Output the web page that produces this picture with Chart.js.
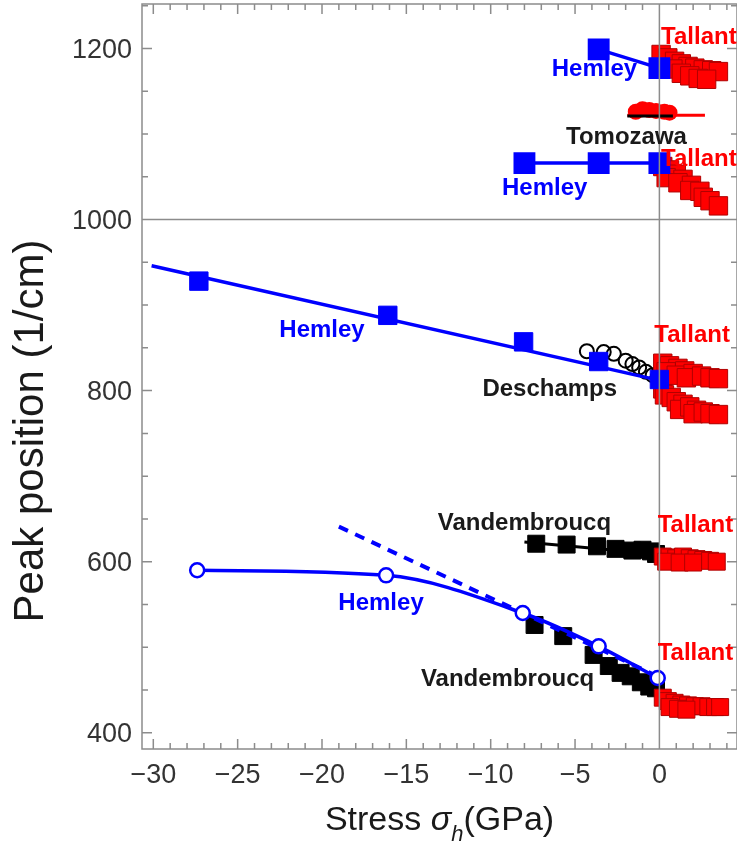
<!DOCTYPE html>
<html>
<head>
<meta charset="utf-8">
<script src="https://cdn.jsdelivr.net/npm/chart.js@4.4.0/dist/chart.umd.min.js"></script>
<style>
  html, body { margin: 0; padding: 0; background: #fff; }
  canvas { display: block; }
</style>
</head>
<body>
<canvas id="peakChart" width="737" height="846"></canvas>
<script>
// axis ranges and tick labels
const xRange = [-30.67, 4.6];
const yRange = [381, 1252];
const xTickValues = [-30, -25, -20, -15, -10, -5, 0];
const yTickValues = [400, 600, 800, 1000, 1200];

// Hemley (blue)
const hemleyTop = [[-3.6, 1199], [0, 1177]];
const hemleyMid = [[-8.0, 1066], [-3.6, 1066], [0, 1066]];
const hemley820 = [[-27.3, 928], [-16.1, 888], [-8.05, 857], [-3.6, 834], [0, 813]];
const hemley820Fit = [[-30.1, 946], [0, 812]];
const hemley600 = [[-27.4, 590], [-16.2, 584], [-8.1, 540], [-3.6, 501], [-0.1, 464]];
const hemley600Lin = [[-19.0, 641], [0, 465]];

// Tallant (red)
const tallant1180 = [[0.1, 1193], [0.5, 1189], [0.9, 1185], [1.3, 1182], [1.7, 1179], [2.1, 1177],
  [2.6, 1175], [3.1, 1174], [3.5, 1173], [0.8, 1176], [1.3, 1171], [1.8, 1168], [2.3, 1165], [2.8, 1164]];
const tallant1040 = [[0.2, 1062], [0.6, 1058], [1.0, 1053], [0.4, 1049], [1.4, 1047], [1.1, 1043],
  [1.9, 1040], [1.8, 1034], [2.4, 1033], [2.6, 1026], [3.0, 1022], [3.5, 1016]];
const tallant820 = [[0.2, 832], [0.6, 829], [1.1, 826], [0.4, 822], [1.5, 823], [1.0, 818],
  [2.0, 820], [1.6, 815], [2.5, 817], [3.0, 815], [3.5, 814]];
const tallant780 = [[0.2, 802], [0.3, 795], [0.7, 792], [1.0, 787], [1.4, 784], [1.2, 778],
  [1.8, 781], [2.2, 777], [2.0, 773], [2.6, 775], [3.0, 773], [3.5, 772]];
const tallant600 = [[0.2, 606], [0.6, 605], [1.0, 604], [1.4, 606], [1.8, 604], [2.2, 603],
  [2.6, 602], [3.0, 601], [3.4, 600], [0.4, 600], [1.2, 599], [2.0, 599]];
const tallant430 = [[0.2, 441], [0.5, 437], [0.9, 435], [1.3, 433], [1.7, 432], [2.1, 431],
  [2.5, 431], [2.9, 430], [3.3, 430], [3.6, 430], [0.6, 430], [1.1, 428], [1.6, 427]];

// Tomozawa
const tomozawaDots = [[-1.4, 1126], [-1.0, 1129], [-0.6, 1128], [-0.2, 1127], [0.3, 1126], [0.6, 1125]];
const tomozawaRed = [[-1.9, 1122], [2.7, 1122]];
const tomozawaBlack = [[-1.9, 1121], [0.8, 1121]];

// Deschamps (black open circles)
const deschamps = [[-4.3, 846], [-3.3, 845], [-2.7, 843], [-2.0, 835], [-1.6, 831], [-1.2, 827],
  [-0.8, 822], [-0.4, 818], [-0.1, 816]];

// Vandembroucq (black squares)
const vand620 = [[-7.3, 621], [-5.5, 620], [-3.7, 618], [-2.6, 615], [-1.6, 613], [-1.0, 614],
  [-0.5, 612], [-0.2, 609]];
const vand620Line = [[-8.0, 623], [-0.2, 609]];
const vand500 = [[-7.4, 526], [-5.7, 513], [-3.9, 491], [-3.0, 478], [-2.3, 470], [-1.7, 466],
  [-1.1, 459], [-0.6, 454], [-0.2, 452]];

// text labels placed in data coordinates
const labels = [
  { text: 'Hemley', x: -3.85, y: 1175, color: '#0000ff' },
  { text: 'Tallant', x: 0.1, y: 1213, color: '#ff0000', align: 'left' },
  { text: 'Tomozawa', x: -1.95, y: 1096, color: '#1a1a1a' },
  { text: 'Hemley', x: -6.8, y: 1037, color: '#0000ff' },
  { text: 'Tallant', x: 0.1, y: 1070, color: '#ff0000', align: 'left' },
  { text: 'Hemley', x: -20.0, y: 870, color: '#0000ff' },
  { text: 'Deschamps', x: -6.5, y: 802, color: '#1a1a1a' },
  { text: 'Tallant', x: -0.3, y: 864, color: '#ff0000', align: 'left' },
  { text: 'Vandembroucq', x: -8.0, y: 645, color: '#1a1a1a' },
  { text: 'Tallant', x: -0.1, y: 643, color: '#ff0000', align: 'left' },
  { text: 'Hemley', x: -16.5, y: 551, color: '#0000ff' },
  { text: 'Vandembroucq', x: -9.0, y: 462, color: '#1a1a1a' },
  { text: 'Tallant', x: -0.1, y: 493, color: '#ff0000', align: 'left' }
];

const FONT = '"Liberation Sans", Arial, Helvetica, sans-serif';
const BLUE = '#0000ff';
const RED = '#ff0000';

function pts(arr) {
  return arr.map(p => ({ x: p[0], y: p[1] }));
}

function squares(arr, color, border, r, order) {
  return { data: pts(arr), pointStyle: 'rect', pointRadius: r, backgroundColor: color,
    borderColor: border, borderWidth: 1, showLine: false, order: order };
}

function line(arr, color, width, order, dash) {
  return { data: pts(arr), showLine: true, borderColor: color, borderWidth: width,
    borderDash: dash || [], pointRadius: 0, order: order };
}

const datasets = [
  // blue on top
  Object.assign(squares(hemleyTop, BLUE, BLUE, 13, 1), { showLine: true, borderWidth: 3.5 }),
  Object.assign(squares(hemleyMid, BLUE, BLUE, 13, 1), { showLine: true, borderWidth: 3.5 }),
  squares(hemley820, BLUE, BLUE, 13, 1),
  line(hemley820Fit, BLUE, 3.5, 1),
  { data: pts(hemley600), showLine: true, cubicInterpolationMode: 'monotone', borderColor: BLUE,
    borderWidth: 3.5, pointRadius: 7, pointBorderWidth: 2.5, pointBackgroundColor: '#ffffff',
    pointBorderColor: BLUE, order: 1 },
  line(hemley600Lin, BLUE, 4, 1, [10, 8]),
  // Tomozawa
  line(tomozawaBlack, '#000000', 3, 2),
  { data: pts(tomozawaDots), pointStyle: 'circle', pointRadius: 8, backgroundColor: RED,
    borderColor: RED, borderWidth: 0, order: 3 },
  line(tomozawaRed, RED, 3, 3),
  // Tallant
  squares(tallant1180, RED, '#b00000', 13, 4),
  squares(tallant1040, RED, '#b00000', 13, 4),
  squares(tallant820, RED, '#b00000', 13, 4),
  squares(tallant780, RED, '#b00000', 13, 4),
  squares(tallant600, RED, '#b00000', 12, 4),
  squares(tallant430, RED, '#b00000', 12, 4),
  // black
  { data: pts(deschamps), pointStyle: 'circle', pointRadius: 7, backgroundColor: 'rgba(0,0,0,0)',
    borderColor: '#000000', borderWidth: 2, order: 5 },
  line(vand620Line, '#000000', 3, 5),
  squares(vand620, '#000000', '#000000', 12, 5),
  squares(vand500, '#000000', '#000000', 12, 5)
];

function fmt(v) {
  return v < 0 ? '\u2212' + Math.abs(v) : String(v);
}

const framePlugin = {
  id: 'frame',
  afterDatasetsDraw(chart) {
    const { ctx, chartArea: a, scales: { x, y } } = chart;
    ctx.save();
    ctx.strokeStyle = '#8c8c8c';
    ctx.lineWidth = 1.5;
    ctx.beginPath();
    // axes through (0, 1000)
    const x0 = x.getPixelForValue(0);
    const y0 = y.getPixelForValue(1000);
    ctx.moveTo(x0, a.top); ctx.lineTo(x0, a.bottom);
    ctx.moveTo(a.left, y0); ctx.lineTo(a.right, y0);
    ctx.rect(a.left, a.top, a.right - a.left, a.bottom - a.top);
    // inward ticks on all four sides
    for (let v = -30; v <= 4; v++) {
      const px = x.getPixelForValue(v);
      const len = v % 5 === 0 ? 10 : 6;
      ctx.moveTo(px, a.bottom); ctx.lineTo(px, a.bottom - len);
      ctx.moveTo(px, a.top); ctx.lineTo(px, a.top + len);
    }
    for (let v = 400; v <= 1250; v += 50) {
      const py = y.getPixelForValue(v);
      const len = v % 200 === 0 ? 10 : 6;
      ctx.moveTo(a.left, py); ctx.lineTo(a.left + len, py);
      ctx.moveTo(a.right, py); ctx.lineTo(a.right - len, py);
    }
    ctx.stroke();

    // tick labels
    ctx.font = '27px ' + FONT;
    ctx.fillStyle = '#333333';
    ctx.textBaseline = 'alphabetic';
    ctx.textAlign = 'center';
    xTickValues.forEach(v => ctx.fillText(fmt(v), x.getPixelForValue(v), a.bottom + 34));
    ctx.textAlign = 'right';
    yTickValues.forEach(v => ctx.fillText(fmt(v), a.left - 10, y.getPixelForValue(v) + 9.5));

    // annotation labels
    ctx.font = 'bold 24px ' + FONT;
    ctx.textBaseline = 'middle';
    labels.forEach(l => {
      ctx.fillStyle = l.color;
      ctx.textAlign = l.align || 'center';
      ctx.fillText(l.text, x.getPixelForValue(l.x), y.getPixelForValue(l.y));
    });

    // y axis title
    ctx.save();
    ctx.translate(43, a.top + 427);
    ctx.rotate(-Math.PI / 2);
    ctx.font = '42px ' + FONT;
    ctx.fillStyle = '#1a1a1a';
    ctx.textAlign = 'center';
    ctx.textBaseline = 'alphabetic';
    ctx.fillText('Peak position (1/cm)', 0, 0);
    ctx.restore();

    // x axis title: Stress σ_h(GPa)
    const parts = [
      { t: 'Stress ', f: '34px ' + FONT, dy: 0 },
      { t: '\u03c3', f: 'italic 34px ' + FONT, dy: 0 },
      { t: 'h', f: 'italic 22px ' + FONT, dy: 11 },
      { t: '(GPa)', f: '34px ' + FONT, dy: 0 }
    ];
    let total = 0;
    parts.forEach(p => { ctx.font = p.f; p.w = ctx.measureText(p.t).width; total += p.w; });
    let cx = (a.left + a.right) / 2 - total / 2;
    const base = a.bottom + 81;
    ctx.fillStyle = '#1a1a1a';
    ctx.textAlign = 'left';
    ctx.textBaseline = 'alphabetic';
    parts.forEach(p => {
      ctx.font = p.f;
      ctx.fillText(p.t, cx, base + p.dy);
      cx += p.w;
    });
    ctx.restore();
  }
};

new Chart(document.getElementById('peakChart'), {
  type: 'scatter',
  data: { datasets: datasets },
  options: {
    responsive: false,
    animation: false,
    events: [],
    layout: { autoPadding: false, padding: { top: 4, right: -2, left: 0, bottom: 0 } },
    plugins: { legend: { display: false }, tooltip: { enabled: false } },
    scales: {
      x: {
        type: 'linear', min: xRange[0], max: xRange[1],
        grid: { display: false }, border: { display: false },
        ticks: { display: false },
        afterFit: s => { s.height = 97; }
      },
      y: {
        type: 'linear', min: yRange[0], max: yRange[1],
        grid: { display: false }, border: { display: false },
        ticks: { display: false },
        afterFit: s => { s.width = 142; }
      }
    }
  },
  plugins: [framePlugin]
});
</script>
</body>
</html>
